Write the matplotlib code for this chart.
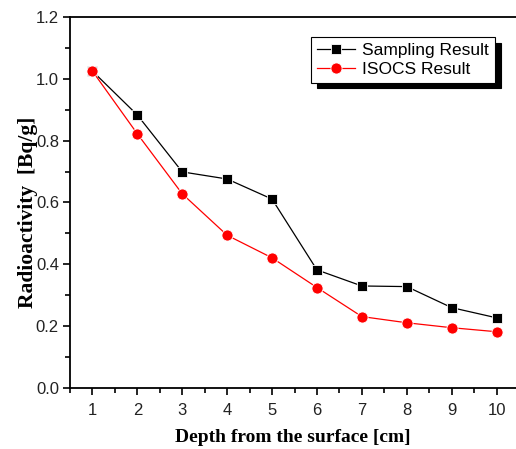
import numpy as np
import matplotlib.pyplot as plt
from matplotlib.ticker import MultipleLocator

depth = [1, 2, 3, 4, 5, 6, 7, 8, 9, 10]
sampling = [1.025, 0.883, 0.699, 0.676, 0.611, 0.382, 0.330, 0.328, 0.260, 0.227]
isocs = [1.025, 0.822, 0.628, 0.494, 0.421, 0.325, 0.231, 0.211, 0.195, 0.182]

fig = plt.figure(figsize=(5.16, 4.49), dpi=100)
W, H = 516.0, 449.0
ax = fig.add_axes([70 / W, 1 - 388 / H, (519 - 70) / W, (388 - 17) / H])

ax.plot(depth, sampling, color='black', lw=0.9, marker='s', ms=7,
        mec='white', mew=0.6, label='Sampling Result')
ax.plot(depth, isocs, color='red', lw=0.9, marker='o', ms=8,
        mec='white', mew=0.6, label='ISOCS Result')

ax.set_xlim(0.5, 10.5)
ax.set_ylim(0.0, 1.2)
ax.xaxis.set_major_locator(MultipleLocator(1))
ax.xaxis.set_minor_locator(MultipleLocator(0.5))
ax.yaxis.set_major_locator(MultipleLocator(0.2))
ax.yaxis.set_minor_locator(MultipleLocator(0.1))
ax.yaxis.set_major_formatter(plt.FuncFormatter(lambda v, p: '%.1f' % v))
ax.tick_params(which='both', direction='out', width=1.2, top=False, right=False)
ax.tick_params(which='major', length=5, labelsize=12)
ax.tick_params(axis='x', which='major', pad=6)
ax.tick_params(axis='y', which='major', pad=3)
ax.tick_params(which='minor', length=3.5)
for lab in ax.get_xticklabels() + ax.get_yticklabels():
    lab.set_fontfamily('Liberation Sans')
    lab.set_color('#222222')
for s in ax.spines.values():
    s.set_linewidth(1.3)
ax.spines['right'].set_visible(False)

ax.set_xlabel('Depth from the surface [cm]', fontfamily='Liberation Serif',
              fontweight='bold', fontsize=14, va='center')
ax.xaxis.set_label_coords((293 - 70) / 449.0, (388 - 437) / 371.0)
ax.set_ylabel('Radioactivity  [Bq/g]', fontfamily='Liberation Serif',
              fontweight='bold', fontsize=15.5, va='center')
ax.yaxis.set_label_coords((28 - 70) / 449.0, (388 - 212) / 371.0)

leg = ax.legend(loc='upper right', bbox_to_anchor=((495 - 70) / 449.0, 1 - (37 - 17) / 371.0),
                fancybox=False, shadow={'color': 'black', 'alpha': 1.0, 'ox': 4, 'oy': -4},
                framealpha=1, edgecolor='black', prop={'family': 'Liberation Sans', 'size': 12.5},
                handlelength=2.2, handletextpad=0.4, borderpad=0.35, labelspacing=0.2,
                borderaxespad=0)
leg.get_frame().set_linewidth(0.8)

fig.savefig('out.png', dpi=100)
